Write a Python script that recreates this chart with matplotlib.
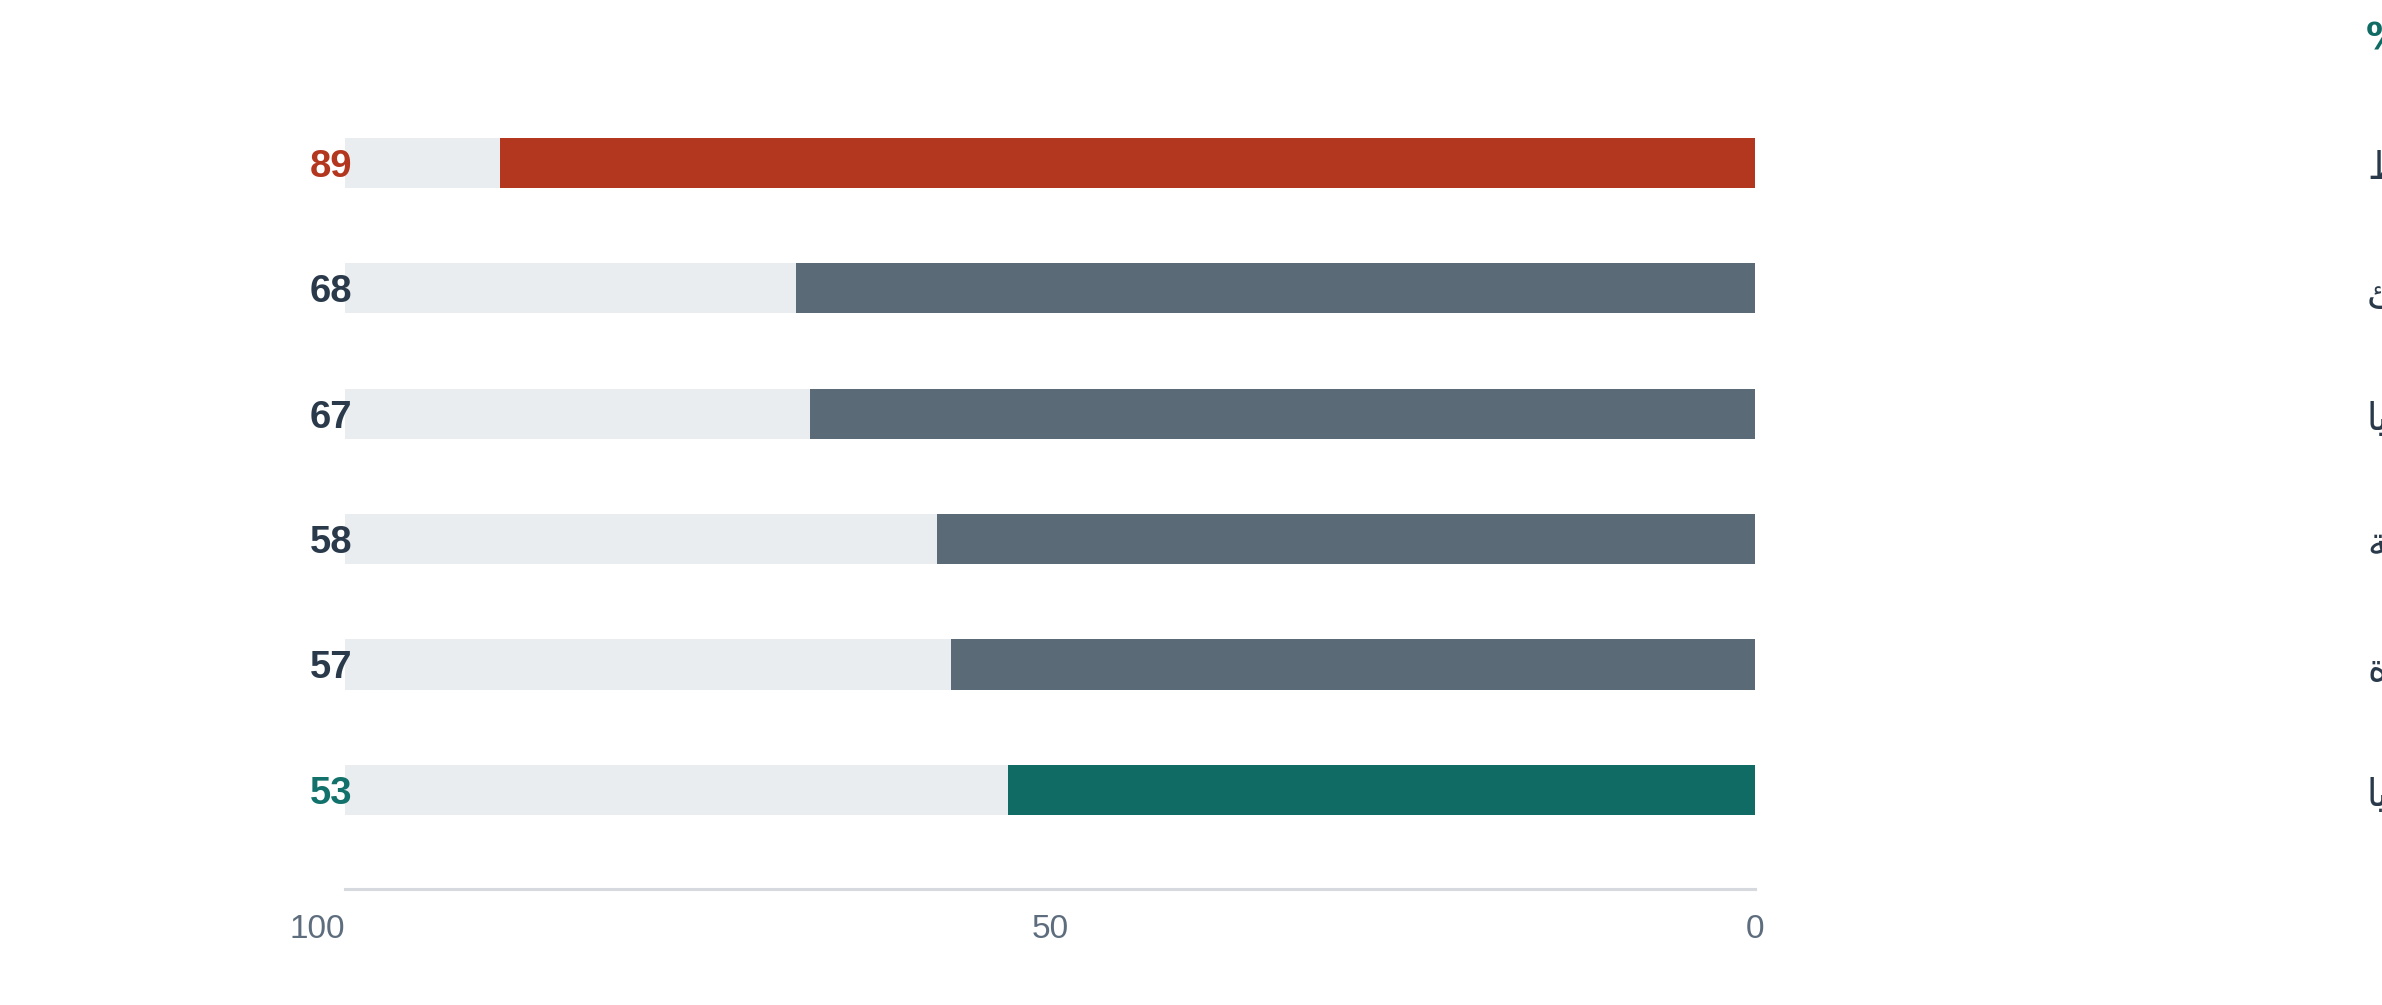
import matplotlib
matplotlib.use('Agg')
import matplotlib.pyplot as plt

# ---------------- data ----------------
values = [89, 68, 67, 58, 57, 53]
categories = ["النفط", "الشاطئ", "سوريا", "السعودية", "الجزيرة", "إفريقيا"]
bar_colors = ['#b3361f', '#5a6b77', '#5a6b77', '#5a6b77', '#5a6b77', '#0f6b63']
value_label_colors = ['#b3361f', '#2a3a4b', '#2a3a4b', '#2a3a4b', '#2a3a4b', '#12716a']
x_ticks = [100, 50, 0]
x_tick_labels = ['100', '50', '0']
unit_label = '%'

# ---------------- minimal Arabic shaping for display ----------------
_FORMS = {  # isolated, final, initial, medial (None = does not join left)
    'ا': (0xFE8D, 0xFE8E, None, None), 'أ': (0xFE83, 0xFE84, None, None),
    'إ': (0xFE87, 0xFE88, None, None), 'ب': (0xFE8F, 0xFE90, 0xFE91, 0xFE92),
    'ة': (0xFE93, 0xFE94, None, None), 'ت': (0xFE95, 0xFE96, 0xFE97, 0xFE98),
    'ث': (0xFE99, 0xFE9A, 0xFE9B, 0xFE9C), 'ج': (0xFE9D, 0xFE9E, 0xFE9F, 0xFEA0),
    'ح': (0xFEA1, 0xFEA2, 0xFEA3, 0xFEA4), 'خ': (0xFEA5, 0xFEA6, 0xFEA7, 0xFEA8),
    'د': (0xFEA9, 0xFEAA, None, None), 'ذ': (0xFEAB, 0xFEAC, None, None),
    'ر': (0xFEAD, 0xFEAE, None, None), 'ز': (0xFEAF, 0xFEB0, None, None),
    'س': (0xFEB1, 0xFEB2, 0xFEB3, 0xFEB4), 'ش': (0xFEB5, 0xFEB6, 0xFEB7, 0xFEB8),
    'ص': (0xFEB9, 0xFEBA, 0xFEBB, 0xFEBC), 'ط': (0xFEC1, 0xFEC2, 0xFEC3, 0xFEC4),
    'ع': (0xFEC9, 0xFECA, 0xFECB, 0xFECC), 'غ': (0xFECD, 0xFECE, 0xFECF, 0xFED0),
    'ف': (0xFED1, 0xFED2, 0xFED3, 0xFED4), 'ق': (0xFED5, 0xFED6, 0xFED7, 0xFED8),
    'ك': (0xFED9, 0xFEDA, 0xFEDB, 0xFEDC), 'ل': (0xFEDD, 0xFEDE, 0xFEDF, 0xFEE0),
    'م': (0xFEE1, 0xFEE2, 0xFEE3, 0xFEE4), 'ن': (0xFEE5, 0xFEE6, 0xFEE7, 0xFEE8),
    'ه': (0xFEE9, 0xFEEA, 0xFEEB, 0xFEEC), 'و': (0xFEED, 0xFEEE, None, None),
    'ي': (0xFEF1, 0xFEF2, 0xFEF3, 0xFEF4), 'ئ': (0xFE89, 0xFE8A, 0xFE8B, 0xFE8C),
}
_LAMALEF = {'ا': (0xFEFB, 0xFEFC), 'أ': (0xFEF7, 0xFEF8), 'إ': (0xFEF9, 0xFEFA)}


def shape_arabic(text):
    words = []
    for word in text.split(' '):
        chars = list(word)
        out = []
        i = 0
        prev_joins = False
        while i < len(chars):
            c = chars[i]
            if c == 'ل' and i + 1 < len(chars) and chars[i + 1] in _LAMALEF:
                iso, fin = _LAMALEF[chars[i + 1]]
                out.append(chr(fin if prev_joins else iso))
                prev_joins = False
                i += 2
                continue
            f = _FORMS.get(c)
            if f is None:
                out.append(c)
                prev_joins = False
                i += 1
                continue
            nxt = chars[i + 1] if i + 1 < len(chars) else None
            can_left = f[2] is not None and nxt in _FORMS
            if prev_joins and can_left:
                g = f[3]
            elif prev_joins:
                g = f[1]
            elif can_left:
                g = f[2]
            else:
                g = f[0]
            out.append(chr(g))
            prev_joins = can_left
            i += 1
        words.append(''.join(out)[::-1])
    return ' '.join(words[::-1])


# ---------------- figure ----------------
W, H = 2382, 1005
fig = plt.figure(figsize=(W / 100, H / 100), dpi=100)
fig.patch.set_facecolor('white')

ax_left, ax_right = 345, 1755
ax_top, ax_bottom = 100, 889
ax = fig.add_axes([ax_left / W, 1 - ax_bottom / H,
                   (ax_right - ax_left) / W, (ax_bottom - ax_top) / H])

n = len(values)
ypos = list(range(n))
ax.barh(ypos, [100] * n, height=0.4, color='#e9edf0', left=0, zorder=1)
ax.barh(ypos, values, height=0.4, color=bar_colors, left=0, zorder=2)

ax.set_xlim(100, 0)
ax.set_ylim(5.79, -0.5)

for i, (v, c) in enumerate(zip(values, value_label_colors)):
    ax.annotate(str(v), xy=(100, i), xytext=(7, -14), textcoords='offset pixels',
                ha='right', va='baseline', fontsize=27.5, fontweight='bold',
                color=c, family=['Liberation Sans', 'DejaVu Sans'], zorder=3)

for s in ['top', 'left', 'right']:
    ax.spines[s].set_visible(False)
ax.spines['bottom'].set_color('#d6dadf')
ax.spines['bottom'].set_linewidth(2.2)
ax.set_yticks([])
ax.set_xticks(x_ticks, x_tick_labels)
ax.tick_params(axis='x', length=0, pad=18, labelsize=24, labelcolor='#5d6d7e')
for lab in ax.get_xticklabels():
    lab.set_family(['Liberation Sans', 'DejaVu Sans'])
ax.get_xticklabels()[0].set_horizontalalignment('right')

# category labels (right side, running past the canvas edge as in the reference)
for i, cat in enumerate(categories):
    yd = ax.transData.transform((0, i))[1]
    fig.text(2367 / W, (yd - 16) / H, shape_arabic(cat), ha='left', va='baseline',
             fontsize=27, color='#2a3a4b', family=['DejaVu Sans'])

fig.text(2366 / W, 1 - 50 / H, unit_label, ha='left', va='baseline',
         fontsize=27, fontweight='bold', color='#0f6b63',
         family=['DejaVu Sans'])

fig.savefig('out.png', dpi=100, facecolor='white')
